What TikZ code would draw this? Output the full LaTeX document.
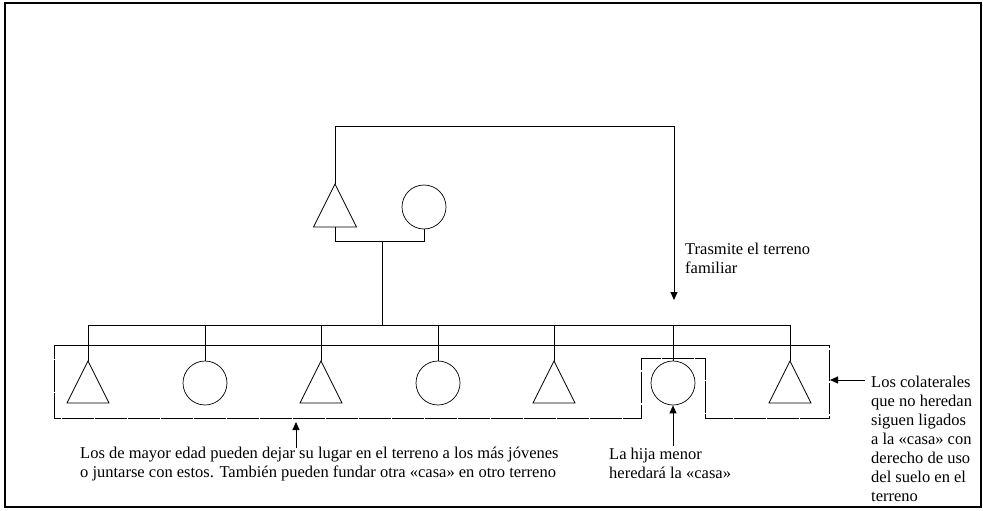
\documentclass[tikz,border=0pt]{standalone}
\usepackage{fontspec}
\setmainfont{Liberation Serif}
\usetikzlibrary{arrows.meta}
\begin{document}
\begin{tikzpicture}[x=1pt,y=-1pt,
  conn/.style={line width=0.9pt},
  shp/.style={line width=0.7pt},
  arr/.style={line width=0.9pt,-{Triangle[length=8pt,width=7pt]}},
  boxline/.style={line width=0.9pt},
  dashline/.style={line width=0.9pt,dash pattern=on 31.5pt off 1.5pt,dash phase=18pt},
  lbl/.style={inner sep=0pt,anchor=north west,align=left,font=\fontsize{16.5}{19}\selectfont},
  circ/.style={circle,draw,shp,minimum size=44pt,inner sep=0pt}]
\useasboundingbox (0,0) rectangle (983,511);
\draw[line width=1.1pt] (5,3) rectangle (981,507);
% parents
\coordinate (fa) at (335,184);
\draw[shp] (fa) -- ++(21.5,43) -- ++(-43,0) -- cycle;
\coordinate (fab) at (335,227);
\node[circ] (mo) at (424,207) {};
\coordinate (top1) at (335,126);
\coordinate (top2) at (674,126);
\coordinate (tr) at (674,300);
\draw[conn] (fa) -- (top1) -- (top2);
\draw[arr] (top2) -- (tr);
\coordinate (m1) at (335,241);
\coordinate (m2) at (424,241);
\coordinate (d1) at (382,241);
\coordinate (d2) at (382,325);
\draw[conn] (fab) -- (m1) -- (m2) -- (mo.south);
\draw[conn] (d1) -- (d2);
% sibling line
\coordinate (s1) at (88,325);
\coordinate (s7) at (790,325);
\draw[conn] (s1) -- (s7);
% children
\foreach \i/\x in {1/88,3/321,5/554,7/790}{
  \coordinate (c\i) at (\x,361);
  \draw[shp] (c\i) -- ++(21,42) -- ++(-42,0) -- cycle;
  \draw[conn] (\x,325) -- (c\i);
}
\foreach \i/\x in {2/205,4/438,6/673}{
  \node[circ] (c\i) at (\x,383) {};
  \draw[conn] (\x,325) -- (c\i.north);
}
% box
\coordinate (b1) at (54,345);
\coordinate (b2) at (829,345);
\draw[boxline] (b1) -- (b2);
\draw[dashline] (b1) -- (54,418) -- (641,418) -- (641,358) -- (705,358) -- (705,418) -- (829,418) -- (b2);
% arrows to box
\coordinate (a1s) at (296,448);
\coordinate (a1e) at (296,422);
\draw[arr] (a1s) -- (a1e);
\coordinate (a2s) at (673,446);
\draw[arr] (a2s) -- (c6.south);
\coordinate (a3s) at (865,380);
\coordinate (a3e) at (830,380);
\draw[arr] (a3s) -- (a3e);
% labels
\node[lbl] (t1) at (685,242.5) {Trasmite el terreno\\familiar};
\node[lbl] (t2) at (80,446.5) {Los de mayor edad pueden dejar su lugar en el terreno a los más jóvenes\\o juntarse con estos. También pueden fundar otra «casa» en otro terreno};
\node[lbl] (t3) at (609,447.5) {La hija menor\\heredará la «casa»};
\node[lbl] (t4) at (871,375.5) {Los colaterales\\que no heredan\\siguen ligados\\a la «casa» con\\derecho de uso\\del suelo en el\\terreno};
\end{tikzpicture}
\end{document}
